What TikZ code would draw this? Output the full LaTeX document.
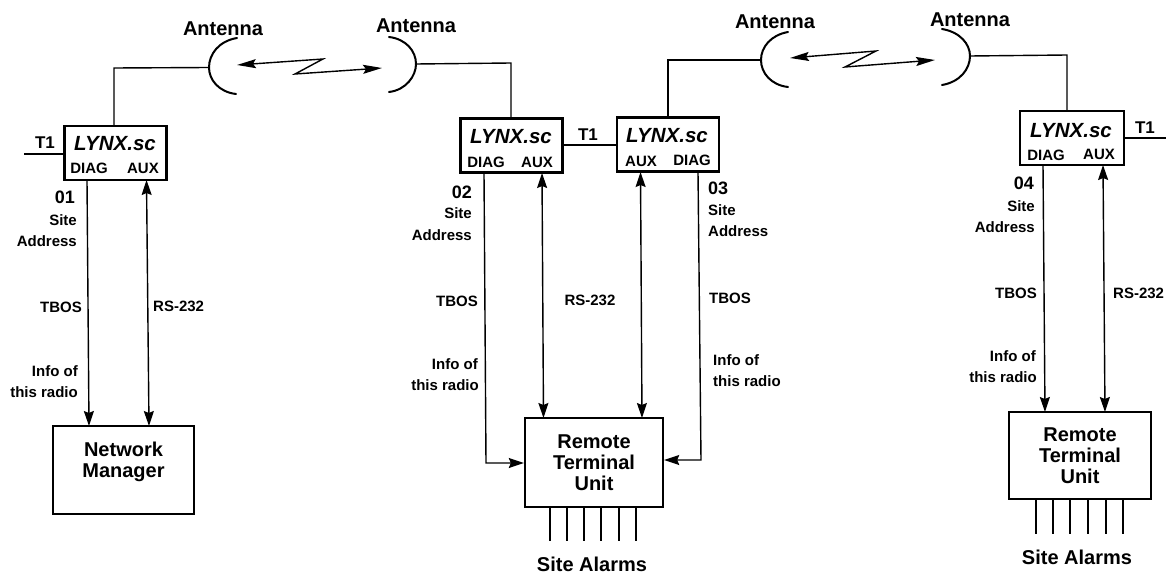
\documentclass[tikz,border=0pt]{standalone}
\usepackage{fontspec}
\setmainfont{Liberation Sans}
\usetikzlibrary{arrows.meta}
\tikzset{
  conn/.style={line width=1.4pt,draw=black},
  dish/.style={line width=2pt,line cap=round},
  headv/.tip={Stealth[length=15pt,width=10pt,inset=2pt]},
  headz/.tip={Stealth[length=19pt,width=9pt,inset=3pt]},
  sharp/.style={-headv},
  both/.style={headv-headv},
  zig/.style={headz-headz},
  box/.style={draw,line width=2.4pt,inner sep=0pt,align=center,font=\bfseries\fontsize{20}{21}\selectfont},
  lynx/.style={box,minimum width=102pt,minimum height=54pt},
  big/.style={inner sep=0pt,text height=14.3pt,text depth=0pt,font=\bfseries\fontsize{20}{21}\selectfont},
  brand/.style={big,font=\bfseries\itshape\fontsize{20.5}{21}\selectfont},
  num/.style={inner sep=0pt,text height=12.9pt,text depth=0pt,font=\bfseries\fontsize{18}{20}\selectfont},
  small/.style={inner sep=0pt,text height=10.7pt,text depth=0pt,font=\bfseries\fontsize{15}{16}\selectfont},
}
\begin{document}
\begin{tikzpicture}[x=1pt,y=-1pt]
\useasboundingbox (0,0) rectangle (1168,575);
% boxes
\node[lynx] (l1) at (115.5,153) {};
\node[lynx] (l2) at (511.5,145.5) {};
\node[lynx] (l3) at (668,144.5) {};
\node[lynx,minimum width=104pt] (l4) at (1072,138) {};
\node[box,minimum width=141pt,minimum height=88pt] (nm) at (123.5,470) {Network\\Manager\\\mbox{}};
\node[box,minimum width=138pt,minimum height=89pt] (rtu1) at (594,462.5) {Remote\\Terminal\\Unit};
\node[box,minimum width=142pt,minimum height=87pt] (rtu2) at (1080,455.5) {Remote\\Terminal\\Unit};
% box labels
\node[brand] (t1) at (115,143) {LYNX.sc};
\node[brand] (t2) at (511,136) {LYNX.sc};
\node[brand] (t3) at (667,135) {LYNX.sc};
\node[brand] (t4) at (1071,130) {LYNX.sc};
\node[small] (d1) at (89,168) {DIAG};
\node[small] (a1) at (143,168) {AUX};
\node[small] (d2) at (486,162) {DIAG};
\node[small] (a2) at (537,162) {AUX};
\node[small] (a3) at (641,161) {AUX};
\node[small] (d3) at (692,160) {DIAG};
\node[small] (d4) at (1046,155) {DIAG};
\node[small] (a4) at (1099,154) {AUX};
% antenna labels
\node[big] (an1) at (223,28) {Antenna};
\node[big] (an2) at (416,25) {Antenna};
\node[big] (an3) at (775,21) {Antenna};
\node[big] (an4) at (970,19) {Antenna};
% dishes
\coordinate (dA) at (209,67.5);
\coordinate (dB) at (416,64);
\coordinate (dC) at (761,60);
\coordinate (dD) at (970,56);
\draw[dish] (237,38) .. controls (219,41) and (209,54) .. (dA) .. controls (209,80) and (219,92) .. (236,94);
\draw[dish] (389,37) .. controls (406,39) and (416,51) .. (dB) .. controls (416,76) and (406,90) .. (389,92);
\draw[dish] (788,32) .. controls (771,35) and (761,47) .. (dC) .. controls (761,73) and (771,85) .. (788,87);
\draw[dish] (942,29) .. controls (960,32) and (970,44) .. (dD) .. controls (970,69) and (960,82) .. (942,85);
% feeds
\draw[conn] (dA) -- (114,68) -- (l1.north -| 114,0);
\draw[conn] (dB) -- (511,63) -- (l2.north -| 511,0);
\draw[conn] (dC) -- (668,60) -- (l3.north -| 668,0);
\draw[conn] (dD) -- (1067,55) -- (l4.north -| 1067,0);
% radio links
\coordinate (z1a) at (237,65); \coordinate (z1b) at (382,68);
\coordinate (z2a) at (790,58); \coordinate (z2b) at (935,60);
\draw[conn,zig] (z1a) -- (323,59) -- (295,74) -- (z1b);
\draw[conn,zig] (z2a) -- (876,51) -- (845,67) -- (z2b);
% T1
\coordinate (tl) at (24,154); \coordinate (tr) at (1166,138);
\draw[conn] (tl) -- (tl -| l1.west);
\draw[conn] (l2.east |- 0,145) -- (l3.west |- 0,145);
\draw[conn] (l4.east |- tr) -- (tr);
\node[num,font=\bfseries\fontsize{17}{20}\selectfont] (tt1) at (45,142) {T1};
\node[num,font=\bfseries\fontsize{17}{20}\selectfont] (tt2) at (588,134) {T1};
\node[num,font=\bfseries\fontsize{17}{20}\selectfont] (tt3) at (1145,127) {T1};
% signal lines
\draw[conn,sharp] (87,180) -- (89,426);
\draw[conn,both] (146.5,180) -- (149,426);
\draw[conn,both] (542,173) -- (543.5,418);
\draw[conn,both] (640.5,172) -- (642,418);
\draw[conn,sharp] (484,173) -- (486,463) -- (rtu1.west |- 0,463);
\draw[conn,sharp] (698,172) -- (701,460) -- (rtu1.east |- 0,460);
\draw[conn,sharp] (1043,165) -- (1045,412);
\draw[conn,both] (1103,165) -- (1105,412);
% site alarm stubs
\foreach \x in {550,567,584,601,619,636}
  \draw[conn] (rtu1.south -| \x,0) -- (\x,541);
\foreach \x in {1036,1053,1070,1088,1106,1123}
  \draw[conn] (rtu2.south -| \x,0) -- (\x,534);
\node[big] (sa1) at (592,564) {Site Alarms};
\node[big] (sa2) at (1077,557) {Site Alarms};
% left column text
\node[num,anchor=east] (n1) at (75,197) {01};
\node[small,anchor=east] at (77,220) {Site};
\node[small,anchor=east] at (77,241) {Address};
\node[small,anchor=east] at (82,307) {TBOS};
\node[small,anchor=east] at (78,371) {Info of};
\node[small,anchor=east] at (78,392) {this radio};
\node[small,anchor=west] at (153,306) {RS-232};
% second
\node[num,anchor=east] (n2) at (472,192) {02};
\node[small,anchor=east] at (472,213) {Site};
\node[small,anchor=east] at (472,235) {Address};
\node[small,anchor=east] at (478,301) {TBOS};
\node[small,anchor=east] at (478,364) {Info of};
\node[small,anchor=east] at (479,385) {this radio};
\node[small] at (590,300) {RS-232};
% third
\node[num,anchor=west] (n3) at (708,188) {03};
\node[small,anchor=west] at (708,210) {Site};
\node[small,anchor=west] at (708,231) {Address};
\node[small,anchor=west] at (709,298) {TBOS};
\node[small,anchor=west] at (713,360) {Info of};
\node[small,anchor=west] at (713,381) {this radio};
% fourth
\node[num,anchor=east] (n4) at (1034,183) {04};
\node[small,anchor=east] at (1035,206) {Site};
\node[small,anchor=east] at (1035,227) {Address};
\node[small,anchor=east] at (1037,293) {TBOS};
\node[small,anchor=east] at (1036,356) {Info of};
\node[small,anchor=east] at (1037,377) {this radio};
\node[small,anchor=west] at (1113,293) {RS-232};
\end{tikzpicture}
\end{document}
